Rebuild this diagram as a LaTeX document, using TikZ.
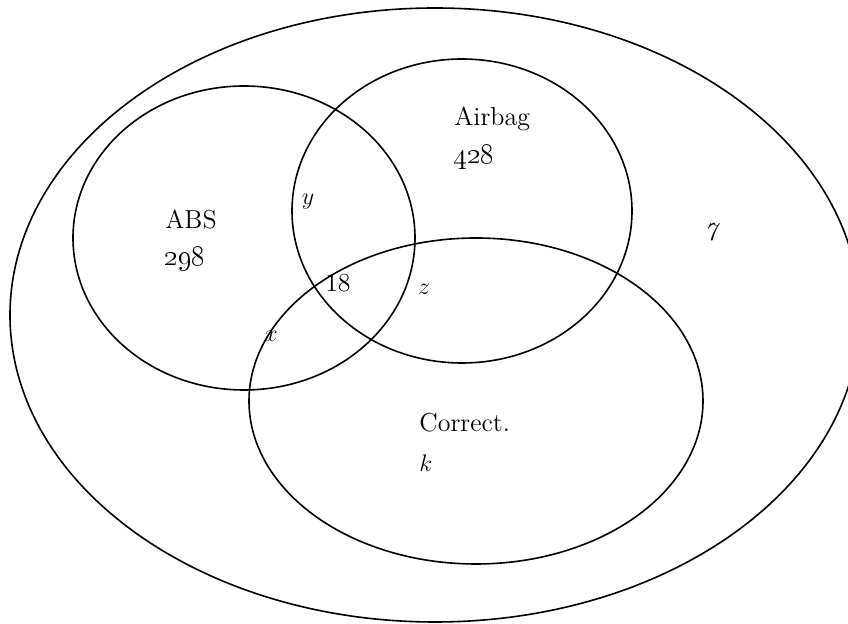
\documentclass[tikz,border=0pt]{standalone}
\usepackage{tikz}
\usetikzlibrary{shapes.geometric}

\begin{document}
\begin{tikzpicture}[x=0.5pt, y=-0.5pt,
  set/.style={draw, ellipse, line width=0.8pt, inner sep=0pt},
  lab/.style={font=\fontsize{13}{16}\selectfont, inner sep=0pt},
  tag/.style={lab, anchor=base west},
  num/.style={tag, font=\fontsize{15.5}{18}\selectfont}]
\useasboundingbox (0,0) rectangle (848,624);
\clip (0,0) rectangle (848,624);
% universe and the three sets
\node[set, minimum width=425pt, minimum height=307pt] (all)  at (435,315) {};
\node[set, minimum width=171pt, minimum height=152pt] (abs)  at (244,238) {};
\node[set, minimum width=170pt, minimum height=152pt] (air)  at (462,211) {};
\node[set, minimum width=227pt, minimum height=163pt] (corr) at (476,401) {};
% set names and counts
\node[tag] (absname)  at (165,229) {ABS};
\node[num] (absnum)   at (164,266) {\oldstylenums{298}};
\node[tag] (airname)  at (454,126) {Airbag};
\node[num] (airnum)   at (453,164) {\oldstylenums{428}};
\node[tag] (corrname) at (419,432) {Correct.};
\node[tag] (corrnum)  at (419,472) {$k$};
% overlaps and outside
\node[lab] (ya)  at (308,202) {$y$};
\node[lab] (all3) at (338,283) {18};
\node[lab] (za)  at (424,289) {$z$};
\node[lab] (xa)  at (271,336) {$x$};
\node[lab] (out) at (712,232) {\textit{7}};
\end{tikzpicture}
\end{document}
